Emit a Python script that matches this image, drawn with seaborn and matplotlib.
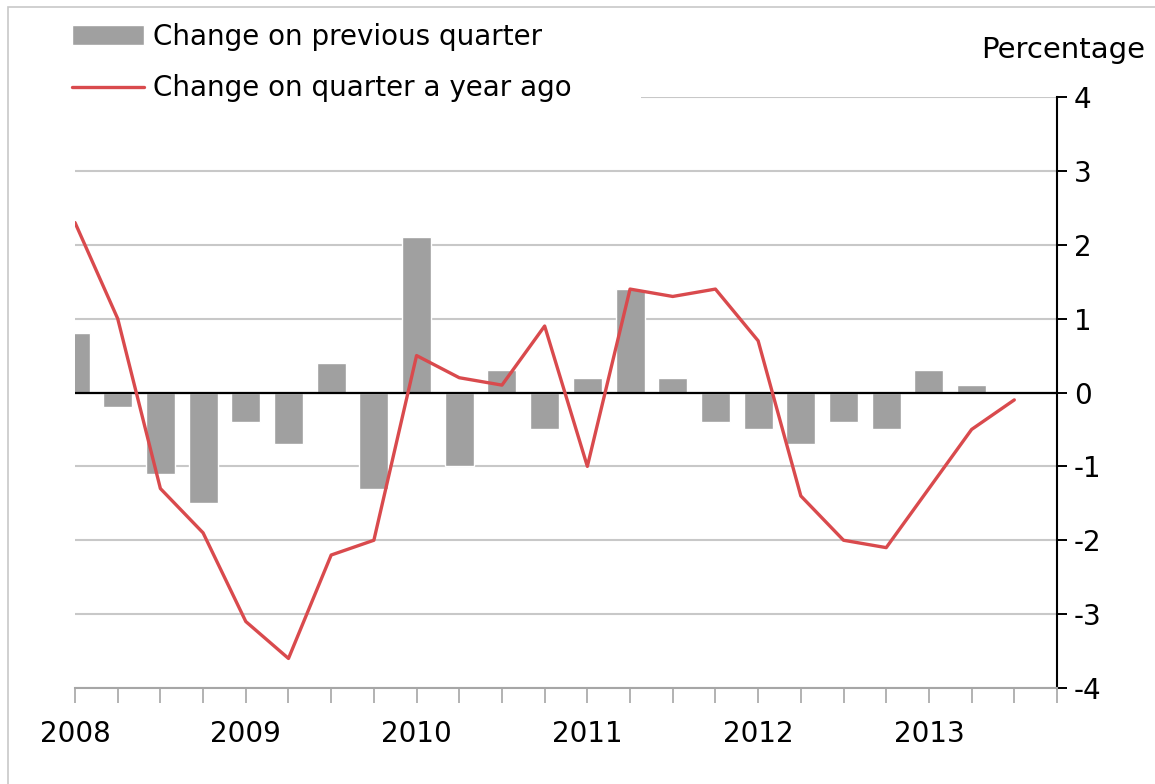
import numpy as np
import pandas as pd
import seaborn as sns
import matplotlib.pyplot as plt
from matplotlib.patches import Rectangle

# quarterly data, 2008 Q1 to 2013 Q3
quarters = [f"{y} Q{q}" for y in range(2008, 2014) for q in range(1, 5)][:23]
year_labels = ["2008", "2009", "2010", "2011", "2012", "2013"]
change_prev_q = [0.8, -0.2, -1.1, -1.5, -0.4, -0.7, 0.4, -1.3,
                 2.1, -1.0, 0.3, -0.5, 0.2, 1.4, 0.2, -0.4,
                 -0.5, -0.7, -0.4, -0.5, 0.3, 0.1, 0.0]
change_year_ago = [2.3, 1.0, -1.3, -1.9, -3.1, -3.6, -2.2, -2.0,
                   0.5, 0.2, 0.1, 0.9, -1.0, 1.4, 1.3, 1.4,
                   0.7, -1.4, -2.0, -2.1, -1.3, -0.5, -0.1]

df = pd.DataFrame({"quarter": quarters,
                   "pos": np.arange(len(quarters)),
                   "prev": change_prev_q,
                   "yoy": change_year_ago})

sns.set_style("white")
plt.rcParams["font.family"] = ["DejaVu Sans"]
plt.rcParams["axes.unicode_minus"] = False
plt.rcParams["text.color"] = "black"
plt.rcParams["xtick.color"] = "black"
plt.rcParams["ytick.color"] = "black"

fig = plt.figure(figsize=(11.55, 7.84), dpi=100)
ax = fig.add_axes([75 / 1155, 1 - 688 / 784, (1057 - 75) / 1155, (688 - 97) / 784])

sns.barplot(data=df, x="pos", y="prev", native_scale=True, width=0.68,
            color="#a0a0a0", saturation=1, label="Change on previous quarter",
            ax=ax, zorder=2)
ax.axhline(0, color="black", lw=1.6, zorder=3)
sns.lineplot(data=df, x="pos", y="yoy", color="#d94a4d", lw=2.4,
             label="Change on quarter a year ago", ax=ax, zorder=4)

ax.set_xlim(0, len(quarters))
ax.set_ylim(-4, 4)
ax.set_yticks(range(-4, 5))
ax.yaxis.tick_right()
ax.tick_params(axis="y", right=True, left=False, direction="out", length=7,
               width=1.4, color="black", labelcolor="black", labelsize=20, pad=5)

xt = np.arange(len(quarters) + 1)
xl = [year_labels[i // 4] if i % 4 == 0 and i // 4 < len(year_labels) else "" for i in xt]
ax.set_xticks(xt)
ax.set_xticklabels(xl)
ax.tick_params(axis="x", bottom=True, direction="out", length=11, width=1.2,
               color="#a6a6a6", labelcolor="black", labelsize=20, pad=12)

ax.grid(axis="y", color="#c8c8c8", lw=1.5, zorder=0)
ax.set_axisbelow(True)
ax.set_xlabel("")
ax.set_ylabel("")
for s in ["top", "left"]:
    ax.spines[s].set_visible(False)
ax.spines["right"].set_color("black")
ax.spines["right"].set_linewidth(1.5)
ax.spines["bottom"].set_color("#a6a6a6")
ax.spines["bottom"].set_linewidth(1.5)

handles, labels = ax.get_legend_handles_labels()
order = [labels.index("Change on previous quarter"), labels.index("Change on quarter a year ago")]
leg = ax.legend([handles[i] for i in order], [labels[i] for i in order],
                loc="upper left", bbox_to_anchor=(61 / 1155, 0.975, 580 / 1155, 0.01),
                bbox_transform=fig.transFigure, mode="expand", borderaxespad=0,
                fontsize=20, handlelength=2.6, handletextpad=0.3, labelspacing=0.85,
                frameon=True, fancybox=False, borderpad=0.4)
leg.get_frame().set_edgecolor("none")
leg.get_frame().set_facecolor("white")
leg.get_frame().set_alpha(1)
leg.set_zorder(10)

fig.text(1145 / 1155, 1 - 50 / 784, "Percentage", ha="right", va="center", fontsize=21)

fig.add_artist(Rectangle((8 / 1155, -0.1), 1.2, 1 - 7 / 784 + 0.1,
                         transform=fig.transFigure, fill=False,
                         edgecolor="#c8c8c8", lw=1.2))

fig.savefig("out.png", dpi=100)
